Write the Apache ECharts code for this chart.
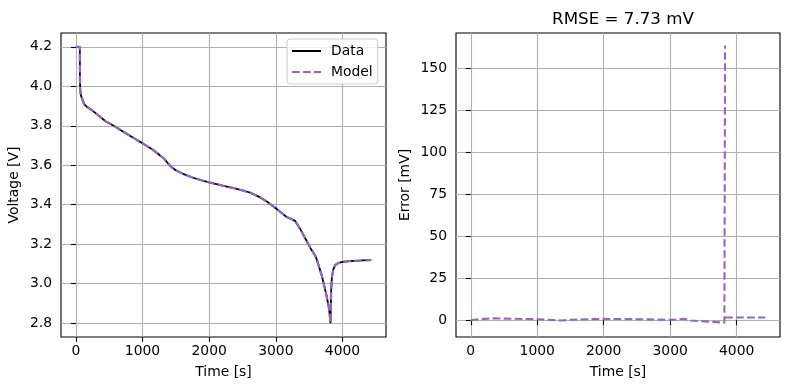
<!DOCTYPE html>
<html><head><meta charset="utf-8">
<script src="https://cdn.jsdelivr.net/npm/echarts@6/dist/echarts.min.js"></script>
<style>html,body{margin:0;padding:0;background:#fff}#c{width:789px;height:390px}</style>
</head><body><div id="c"></div>
<script>
// ---- data ----
const timeV = [0, 60, 62, 65, 75, 125, 170, 250, 330, 450, 570, 700, 850, 1000, 1150, 1255, 1320, 1370, 1430, 1500, 1600, 1750, 1900, 2000, 2200, 2400, 2610, 2750, 2870, 3000, 3100, 3160, 3230, 3290, 3360, 3440, 3520, 3600, 3690, 3760, 3800, 3820, 3824, 3830, 3840, 3860, 3890, 3940, 4000, 4100, 4200, 4300, 4430];
const voltageData = [4.2, 4.2, 4.05, 3.99, 3.955, 3.91, 3.895, 3.877, 3.855, 3.822, 3.8, 3.772, 3.742, 3.711, 3.68, 3.652, 3.635, 3.615, 3.592, 3.575, 3.558, 3.538, 3.522, 3.513, 3.497, 3.482, 3.462, 3.44, 3.415, 3.382, 3.355, 3.338, 3.328, 3.318, 3.28, 3.23, 3.18, 3.137, 3.04, 2.94, 2.87, 2.80, 2.88, 2.97, 3.03, 3.07, 3.095, 3.105, 3.11, 3.114, 3.116, 3.118, 3.12];
const voltageModel = [4.2, 4.2, 4.05, 3.99, 3.955, 3.91, 3.895, 3.877, 3.855, 3.822, 3.8, 3.772, 3.742, 3.711, 3.68, 3.652, 3.635, 3.615, 3.592, 3.575, 3.558, 3.538, 3.522, 3.513, 3.497, 3.482, 3.462, 3.44, 3.415, 3.382, 3.355, 3.338, 3.328, 3.318, 3.28, 3.23, 3.18, 3.137, 3.04, 2.94, 2.87, 2.80, 2.88, 2.97, 3.03, 3.07, 3.095, 3.105, 3.11, 3.114, 3.116, 3.118, 3.12];
const timeE = [0, 55, 60, 300, 1000, 1380, 1500, 2000, 2500, 3000, 3210, 3310, 3660, 3815, 3822, 3826, null, 3826, 4430];
const errorMv = [0, 0.3, 1.2, 1.1, 0.6, -0.2, 0.3, 0.8, 0.6, 0.2, 0.8, -0.2, -1.0, -1.5, -1.5, 163.5, null, 1.6, 1.6];
const xTicks = [0, 1000, 2000, 3000, 4000];
const vTicks = [2.8, 3.0, 3.2, 3.4, 3.6, 3.8, 4.0, 4.2];
const eTicks = [0, 25, 50, 75, 100, 125, 150];
const titleText = 'RMSE = 7.73 mV';

const zip = (a, b) => a.map((x, i) => (x === null ? [null, null] : [x, b[i]]));
const FONT = 'DejaVu Sans';
const FS = 13.9;
const purple = '#9467bd';
const DASH = [7.7, 3.3];

function xAxisCfg(gi) {
  return {
    type: 'value', gridIndex: gi, min: -222, max: 4652, name: 'Time [s]',
    nameLocation: 'middle', nameGap: 28,
    nameTextStyle: { fontFamily: FONT, fontSize: FS, color: '#000' },
    axisLine: { show: false },
    axisTick: { show: true, length: 4.9, inside: false, customValues: xTicks, lineStyle: { color: '#000', width: 1.1 } },
    axisLabel: { customValues: xTicks, fontFamily: FONT, fontSize: FS, color: '#000', margin: 7, formatter: v => String(v) },
    splitLine: { show: true, lineStyle: { color: '#b0b0b0', width: 1.1 } }
  };
}
function yAxisCfg(gi, min, max, ticks, name, fmt, gap) {
  return {
    type: 'value', gridIndex: gi, min: min, max: max, name: name,
    nameLocation: 'middle', nameGap: gap, nameRotate: 90,
    nameTextStyle: { fontFamily: FONT, fontSize: FS, color: '#000' },
    axisLine: { show: false },
    axisTick: { show: true, length: 4.9, customValues: ticks, lineStyle: { color: '#000', width: 1.1 } },
    axisLabel: { customValues: ticks, fontFamily: FONT, fontSize: FS, color: '#000', margin: 9, formatter: fmt },
    splitLine: { show: true, lineStyle: { color: '#b0b0b0', width: 1.1 } }
  };
}

const chart = echarts.init(document.getElementById('c'), null, { renderer: 'canvas' });
chart.setOption({
  animation: false,
  backgroundColor: '#fff',
  title: {
    text: titleText, left: 618, top: 6, textAlign: 'center',
    textStyle: { fontFamily: FONT, fontSize: 16.7, fontWeight: 'normal', color: '#000' }
  },
  legend: {
    show: true, orient: 'vertical', left: 287, top: 39,
    data: ['Data', 'Model'],
    itemWidth: 29, itemHeight: 14, itemGap: 7,
    padding: [5, 5, 5, 4],
    itemStyle: { opacity: 0 },
    borderColor: '#cccccc', borderWidth: 1, borderRadius: 3, backgroundColor: 'rgba(255,255,255,0.8)',
    textStyle: { fontFamily: FONT, fontSize: FS, color: '#000', padding: [0, 0, 0, 5] }
  },
  grid: [
    { left: 61, top: 33, width: 325, height: 304, show: true, borderColor: '#000', borderWidth: 1.1, backgroundColor: 'transparent' },
    { left: 456, top: 33, width: 324, height: 304, show: true, borderColor: '#000', borderWidth: 1.1, backgroundColor: 'transparent' }
  ],
  xAxis: [xAxisCfg(0), xAxisCfg(1)],
  yAxis: [
    yAxisCfg(0, 2.73, 4.27, vTicks, 'Voltage [V]', v => v.toFixed(1), 40),
    yAxisCfg(1, -10, 171, eTicks, 'Error [mV]', v => String(v), 44)
  ],
  series: [
    { name: 'Data', type: 'line', xAxisIndex: 0, yAxisIndex: 0, data: zip(timeV, voltageData),
      symbol: 'none', lineStyle: { color: '#000', width: 1.8 }, itemStyle: { color: '#000' } },
    { name: 'Model', type: 'line', xAxisIndex: 0, yAxisIndex: 0, data: zip(timeV, voltageModel),
      symbol: 'none', lineStyle: { color: purple, width: 2.3, type: DASH }, itemStyle: { color: purple } },
    { name: 'Error', type: 'line', xAxisIndex: 1, yAxisIndex: 1, data: zip(timeE, errorMv), connectNulls: false,
      symbol: 'none', lineStyle: { color: purple, width: 2.1, type: DASH }, itemStyle: { color: purple } }
  ]
});
</script></body></html>
